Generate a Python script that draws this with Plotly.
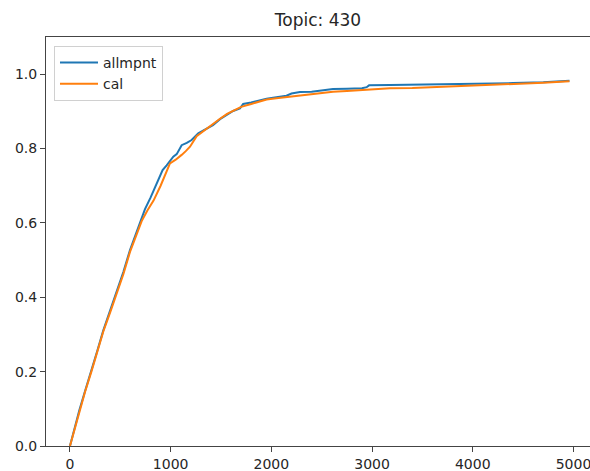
import plotly.graph_objects as go

# allmpnt series (blue)
allmpnt_x = [0, 50, 93, 150, 215, 270, 331, 400, 473, 530, 596, 650, 712, 745, 800, 860, 920, 960,
             1000, 1026, 1060, 1090, 1109, 1160, 1208, 1274, 1357, 1420, 1490, 1560, 1620, 1688, 1700,
             1720, 1800, 1880, 1953, 2050, 2150, 2200, 2284, 2400, 2500, 2612, 2750, 2900, 2946, 2970,
             3178, 3500, 3800, 4100, 4400, 4700, 4960]
allmpnt_y = [0, 0.052, 0.096, 0.148, 0.204, 0.255, 0.311, 0.365, 0.421, 0.468, 0.527, 0.565, 0.612,
             0.637, 0.668, 0.703, 0.742, 0.755, 0.768, 0.778, 0.785, 0.80, 0.809, 0.815, 0.823, 0.841,
             0.853, 0.863, 0.879, 0.892, 0.901, 0.908, 0.913, 0.92, 0.924, 0.93, 0.934, 0.938, 0.942,
             0.948, 0.952, 0.953, 0.956, 0.96, 0.961, 0.962, 0.965, 0.97, 0.971, 0.972, 0.973, 0.974,
             0.976, 0.978, 0.982]

# cal series (orange)
cal_x = [0, 50, 93, 150, 215, 270, 331, 400, 457, 530, 596, 650, 712, 770, 830, 900, 960, 993, 1050,
         1092, 1109, 1150, 1192, 1258, 1340, 1420, 1490, 1560, 1620, 1700, 1800, 1880, 1953, 2050, 2150,
         2284, 2400, 2500, 2612, 2750, 2946, 3178, 3400, 3600, 3706, 3900, 4200, 4500, 4700, 4960]
cal_y = [0, 0.05, 0.094, 0.146, 0.202, 0.252, 0.308, 0.36, 0.405, 0.462, 0.522, 0.56, 0.605, 0.634,
         0.66, 0.70, 0.738, 0.76, 0.77, 0.778, 0.783, 0.793, 0.805, 0.833, 0.85, 0.866, 0.88, 0.893,
         0.902, 0.912, 0.92, 0.927, 0.932, 0.935, 0.938, 0.944, 0.947, 0.95, 0.953, 0.955, 0.958, 0.962,
         0.963, 0.965, 0.968, 0.969, 0.971, 0.974, 0.977, 0.981]

x_ticks = [0, 1000, 2000, 3000, 4000, 5000]
y_ticks = [0.0, 0.2, 0.4, 0.6, 0.8, 1.0]
title_text = "Topic: 430"

fig = go.Figure()
fig.add_trace(go.Scatter(x=allmpnt_x, y=allmpnt_y, mode="lines", name="allmpnt",
                         line=dict(color="#1f77b4", width=2)))
fig.add_trace(go.Scatter(x=cal_x, y=cal_y, mode="lines", name="cal",
                         line=dict(color="#ff7f0e", width=2)))

font_family = "DejaVu Sans"
fig.update_layout(
    width=590, height=471,
    margin=dict(l=46, r=0, t=37, b=25),
    paper_bgcolor="white", plot_bgcolor="white",
    font=dict(family=font_family, size=14, color="#262626"),
    title=dict(text=title_text, x=0.50, xref="paper", xanchor="center",
               y=1 - 20 / 471, yref="container", yanchor="middle",
               font=dict(family=font_family, size=17, color="#262626")),
    showlegend=True,
    legend=dict(x=0.0147, y=0.978, xanchor="left", yanchor="top",
                bgcolor="white", bordercolor="#d0d0d0", borderwidth=1,
                font=dict(family=font_family, size=14, color="#262626"),
                itemwidth=38),
    xaxis=dict(range=[-238, 5164], tickvals=x_ticks, ticktext=[str(v) for v in x_ticks],
               showgrid=False, zeroline=False, showline=True, linecolor="#444", linewidth=1,
               mirror=True, ticks="outside", ticklen=5, tickcolor="#444",
               ticklabeloverflow="allow",
               tickfont=dict(family=font_family, size=14, color="#262626")),
    yaxis=dict(range=[0, 1.1], tickvals=y_ticks, ticktext=[f"{v:.1f}" for v in y_ticks],
               showgrid=False, zeroline=False, showline=True, linecolor="#444", linewidth=1,
               ticks="outside", ticklen=5, tickcolor="#444",
               tickfont=dict(family=font_family, size=14, color="#262626")),
)

fig.write_html("out.html", config={"displayModeBar": False},
               post_script="document.body.style.margin='0';document.body.style.overflow='hidden';")
